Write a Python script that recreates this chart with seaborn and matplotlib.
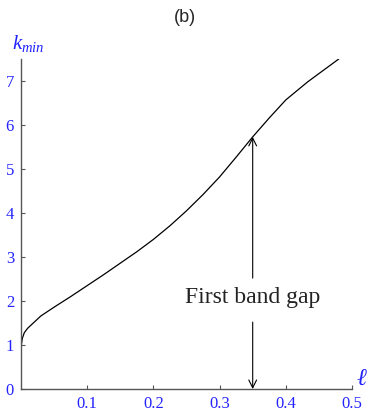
import numpy as np
import pandas as pd
import seaborn as sns
import matplotlib.pyplot as plt

# values
ell = [0.0, 0.002, 0.005, 0.01, 0.02, 0.03, 0.05, 0.075, 0.1, 0.125, 0.15,
       0.175, 0.2, 0.225, 0.25, 0.275, 0.3, 0.325, 0.35, 0.375, 0.4, 0.433, 0.48]
kmin = [0.95, 1.15, 1.28, 1.38, 1.52, 1.66, 1.86, 2.1, 2.35, 2.6, 2.86,
        3.12, 3.4, 3.71, 4.05, 4.42, 4.82, 5.27, 5.73, 6.16, 6.57, 6.98, 7.5]
xticks = [0.1, 0.2, 0.3, 0.4, 0.5]
yticks = [0, 1, 2, 3, 4, 5, 6, 7]
gap_ell = 0.35
gap_top = 5.73

df = pd.DataFrame({"ell": ell, "kmin": kmin})

sns.set_style("ticks")
plt.rcParams["font.family"] = ["Liberation Serif", "DejaVu Serif"]
plt.rcParams["mathtext.fontset"] = "custom"
plt.rcParams["mathtext.it"] = "Liberation Serif:italic"
plt.rcParams["mathtext.rm"] = "Liberation Serif"

fig = plt.figure(figsize=(3.71, 4.11), dpi=100)
ax = fig.add_axes([21 / 371, 1 - 389 / 411, 331 / 371, 330 / 411])

sns.lineplot(data=df, x="ell", y="kmin", ax=ax, color="black", linewidth=0.9)

ax.set_xlim(0, 0.5)
ax.set_ylim(0, 7.5)
ax.set_xticks(xticks)
ax.set_yticks(yticks)
ax.set_xticklabels([f"{t:g}" for t in xticks])
ax.set_yticklabels([str(t) for t in yticks])
ax.tick_params(direction="in", length=3, width=0.8, color="#555555",
               labelcolor="#2323ff", labelsize=12)
ax.tick_params(axis="y", pad=5)
ax.tick_params(axis="x", pad=5)
for s in ["top", "right"]:
    ax.spines[s].set_visible(False)
for s in ["left", "bottom"]:
    ax.spines[s].set_color("#555555")
    ax.spines[s].set_linewidth(1.0)
ax.set_xlabel("")
ax.set_ylabel("")

# arrows for the band gap
label_y = 2.07
ax.annotate("", xy=(gap_ell, gap_top), xytext=(gap_ell, label_y + 0.45),
            arrowprops=dict(arrowstyle="->", color="black", lw=0.8,
                            shrinkA=0, shrinkB=0, mutation_scale=14))
ax.annotate("", xy=(gap_ell, 0), xytext=(gap_ell, label_y - 0.55),
            arrowprops=dict(arrowstyle="->", color="black", lw=0.8,
                            shrinkA=0, shrinkB=0, mutation_scale=14))
ax.text(gap_ell, label_y, "First band gap", ha="center", va="center",
        fontsize=17, color="#222222")

fig.text(185 / 371, 1 - 18 / 411, "(b)", ha="center", va="center",
         fontsize=13, family="Liberation Sans")
fig.text(12 / 371, 1 - 44 / 411, r"$k_{min}$", ha="left", va="center",
         fontsize=15, color="#2323ff")
fig.text(356 / 371, 1 - 379 / 411, r"$\ell$", ha="left", va="center",
         fontsize=17, color="#2323ff")

fig.savefig("out.png", dpi=100)
